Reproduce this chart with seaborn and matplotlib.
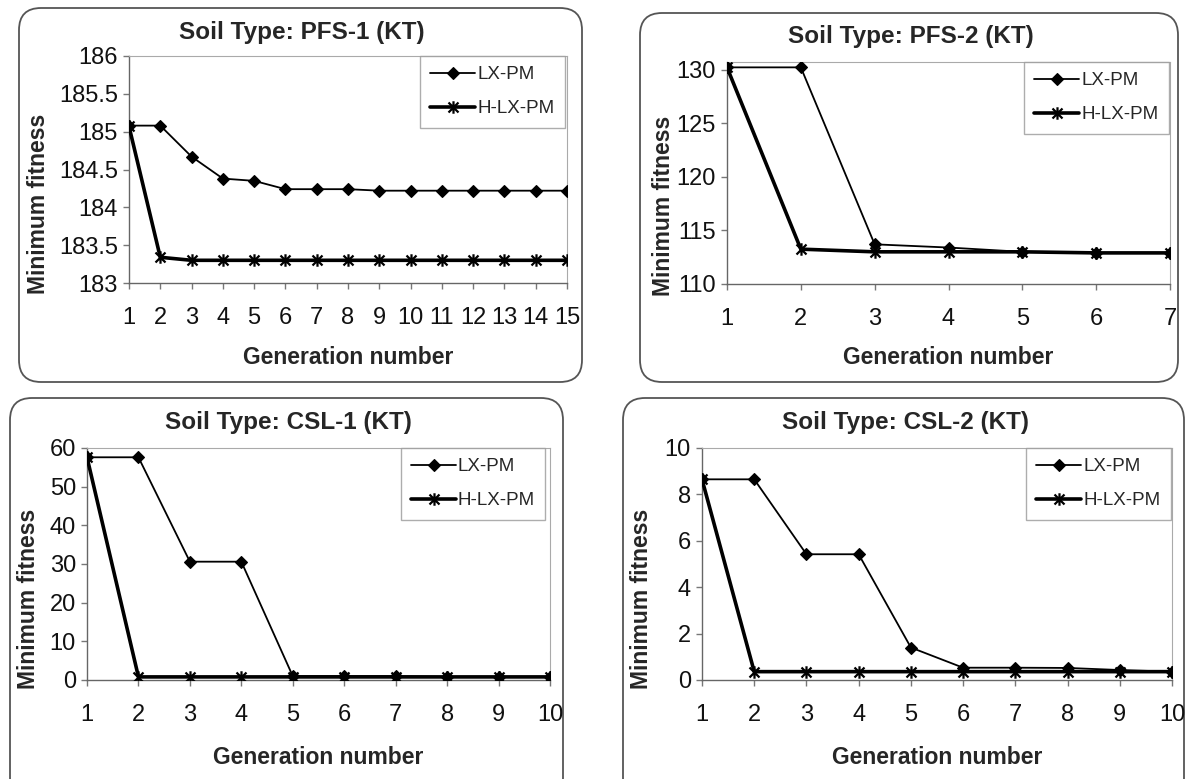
import numpy as np
import pandas as pd
import matplotlib
import matplotlib.pyplot as plt
import seaborn as sns
from matplotlib.patches import FancyBboxPatch
from matplotlib.path import Path
from matplotlib.transforms import IdentityTransform

sns.set_style('ticks')
plt.rcParams['font.family'] = ['Liberation Sans', 'DejaVu Sans']

W, H = 1187, 779

# data
gen_pfs1 = list(range(1, 16))
pfs1_lx = [185.08, 185.08, 184.67, 184.38, 184.35, 184.24, 184.24, 184.24,
           184.22, 184.22, 184.22, 184.22, 184.22, 184.22, 184.22]
pfs1_h = [185.07, 183.34] + [183.30] * 13

gen_pfs2 = list(range(1, 8))
pfs2_lx = [130.2, 130.2, 113.7, 113.4, 113.0, 112.9, 112.9]
pfs2_h = [130.2, 113.25, 113.0, 113.0, 113.0, 112.9, 112.9]

gen_csl1 = list(range(1, 11))
csl1_lx = [57.6, 57.6, 30.6, 30.6, 1.0, 1.0, 1.0, 0.8, 0.8, 0.8]
csl1_h = [57.6] + [0.8] * 9

gen_csl2 = list(range(1, 11))
csl2_lx = [8.65, 8.65, 5.42, 5.42, 1.40, 0.53, 0.53, 0.52, 0.43, 0.36]
csl2_h = [8.65] + [0.36] * 9

titles = ['Soil Type: PFS-1 (KT)', 'Soil Type: PFS-2 (KT)',
          'Soil Type: CSL-1 (KT)', 'Soil Type: CSL-2 (KT)']

# asterisk marker: an X with a vertical bar, like the Excel star marker
star = Path([(-1, -1), (1, 1), (-1, 1), (1, -1), (0, -1.25), (0, 1.25)],
            [Path.MOVETO, Path.LINETO] * 3)

# layout in pixels (top-left origin): axes box, frame box, title pos, ylabel x, xlabel y, legend anchor
panels = [
    dict(gen=gen_pfs1, lx=pfs1_lx, h=pfs1_h, ylim=(183, 186), yticks=np.arange(183, 186.01, 0.5),
         ax=(129, 56, 567, 283), frame=(19, 8, 582, 382), title=(302, 33), ylab=39, xlab=357, leg=0.995),
    dict(gen=gen_pfs2, lx=pfs2_lx, h=pfs2_h, ylim=(110, 130.7), yticks=np.arange(110, 131, 5),
         ax=(727, 62, 1170, 284), frame=(640, 13, 1178, 382), title=(911, 37), ylab=663, xlab=357, leg=0.997),
    dict(gen=gen_csl1, lx=csl1_lx, h=csl1_h, ylim=(0, 60), yticks=np.arange(0, 61, 10),
         ax=(87, 448, 550, 680), frame=(10, 398, 563, 800), title=(288, 423), ylab=29, xlab=757, leg=0.99),
    dict(gen=gen_csl2, lx=csl2_lx, h=csl2_h, ylim=(0, 10), yticks=np.arange(0, 11, 2),
         ax=(702, 448, 1172, 680), frame=(623, 398, 1184, 800), title=(906, 423), ylab=642, xlab=757, leg=0.997),
]

fig = plt.figure(figsize=(W / 100, H / 100), dpi=100)
fig.patch.set_facecolor('white')

for p, title in zip(panels, titles):
    fx0, fy0, fx1, fy1 = p['frame']
    frame = FancyBboxPatch((fx0, H - fy1), fx1 - fx0, fy1 - fy0,
                           boxstyle='round,pad=0,rounding_size=22',
                           transform=IdentityTransform(), facecolor='white',
                           edgecolor='#555555', linewidth=1.3, zorder=0)
    fig.add_artist(frame)

    x0, y0, x1, y1 = p['ax']
    ax = fig.add_axes([x0 / W, 1 - y1 / H, (x1 - x0) / W, (y1 - y0) / H])
    ax.set_facecolor('none')

    sns.lineplot(x=p['gen'], y=p['lx'], ax=ax, color='black', linewidth=1.3,
                 marker='D', markersize=6, markeredgecolor='black', markeredgewidth=0.8,
                 label='LX-PM', zorder=3)
    sns.lineplot(x=p['gen'], y=p['h'], ax=ax, color='black', linewidth=2.6,
                 marker=star, markersize=9, markeredgecolor='black', markeredgewidth=1.6,
                 label='H-LX-PM', zorder=4)

    ax.set_xlim(1, len(p['gen']))
    ax.set_xticks(p['gen'])
    ax.set_ylim(*p['ylim'])
    ax.set_yticks(p['yticks'])
    ax.set_yticklabels([f'{v:g}' for v in p['yticks']])
    ax.tick_params(axis='both', labelsize=17, length=4, width=1, color='#777777',
                   labelcolor='#111111', direction='out')
    ax.tick_params(axis='x', pad=13)
    ax.tick_params(axis='y', pad=4)
    for side in ['left', 'bottom']:
        ax.spines[side].set_color('#666666')
        ax.spines[side].set_linewidth(1.0)
    for side in ['top', 'right']:
        ax.spines[side].set_visible(True)
        ax.spines[side].set_color('#aaaaaa')
        ax.spines[side].set_linewidth(0.8)
    ax.set_xlabel('')
    ax.set_ylabel('')

    leg = ax.legend(loc='upper right', bbox_to_anchor=(p['leg'], 1.0), borderaxespad=0,
                    fontsize=13.5, frameon=True, fancybox=False, edgecolor='#999999',
                    handlelength=2.4, handletextpad=0.1, labelspacing=0.9, borderpad=0.55)
    leg.get_frame().set_linewidth(1.0)
    leg.set_zorder(5)

    tx, ty = p['title']
    fig.text(tx / W, 1 - ty / H, title, ha='center', va='center', fontsize=17.5, fontweight='bold')
    fig.text(p['ylab'] / W, 1 - (y1 - 0.35 * (y1 - y0)) / H, 'Minimum fitness', rotation=90,
             ha='center', va='center', fontsize=16.5, fontweight='bold')
    fig.text((x0 + x1) / 2 / W, 1 - p['xlab'] / H, 'Generation number',
             ha='center', va='center', fontsize=16.5, fontweight='bold')

fig.savefig('out.png', dpi=100, facecolor='white')
